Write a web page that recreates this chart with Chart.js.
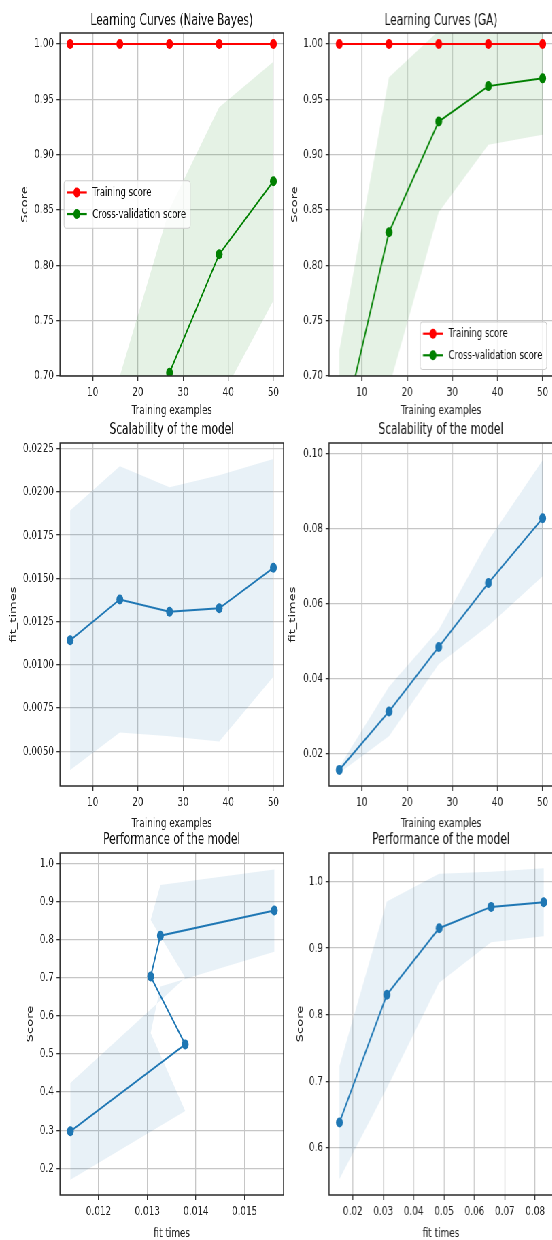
<!DOCTYPE html>
<html>
<head>
<meta charset="utf-8">
<script src="https://cdn.jsdelivr.net/npm/chart.js@4.4.0/dist/chart.umd.min.js"></script>
<style>
html, body { margin: 0; padding: 0; background: #fff; overflow: hidden; width: 552px; height: 1240px; }
#wrap { position: absolute; left: 0; top: 0; width: 812px; height: 1240px; overflow: hidden;
        transform: scaleX(0.68); transform-origin: 0 0; }
#wrap canvas { position: absolute; }
</style>
</head>
<body>
<div id="wrap">
  <canvas id="c1"></canvas>
  <canvas id="c2"></canvas>
  <canvas id="c3"></canvas>
  <canvas id="c4"></canvas>
  <canvas id="c5"></canvas>
  <canvas id="c6"></canvas>
</div>
<script>
// so mau huan luyen
const trainSizes = [5, 16, 27, 38, 50];

// Naive Bayes
const nbTrainScore = [1.0, 1.0, 1.0, 1.0, 1.0];
const nbTrainStd   = [0, 0, 0, 0, 0];
const nbTestScore  = [0.297, 0.525, 0.703, 0.810, 0.876];
const nbTestStd    = [0.127, 0.175, 0.148, 0.133, 0.108];
const nbFitTime    = [0.01142, 0.01378, 0.01307, 0.01327, 0.01561];
const nbFitStd     = [0.0075, 0.0077, 0.0072, 0.0077, 0.0063];

// GA
const gaTrainScore = [1.0, 1.0, 1.0, 1.0, 1.0];
const gaTrainStd   = [0, 0, 0, 0, 0];
const gaTestScore  = [0.638, 0.830, 0.930, 0.962, 0.969];
const gaTestStd    = [0.085, 0.140, 0.082, 0.053, 0.051];
const gaFitTime    = [0.0156, 0.0312, 0.0484, 0.0655, 0.0828];
const gaFitStd     = [0.0008, 0.0066, 0.0046, 0.0114, 0.0155];

// nhan truc
const sizeTicks     = ["10", "20", "30", "40", "50"];
const lcScoreTicks  = ["0.70", "0.75", "0.80", "0.85", "0.90", "0.95", "1.00"];
const nbTimeTicks   = ["0.0050", "0.0075", "0.0100", "0.0125", "0.0150", "0.0175", "0.0200", "0.0225"];
const gaTimeTicks   = ["0.02", "0.04", "0.06", "0.08", "0.10"];
const nbPerfYTicks  = ["0.2", "0.3", "0.4", "0.5", "0.6", "0.7", "0.8", "0.9", "1.0"];
const nbPerfXTicks  = ["0.012", "0.013", "0.014", "0.015"];
const gaPerfYTicks  = ["0.6", "0.7", "0.8", "0.9", "1.0"];
const gaPerfXTicks  = ["0.02", "0.03", "0.04", "0.05", "0.06", "0.07", "0.08"];

const FONT = "'DejaVu Sans', sans-serif";
const TITLE_H = 33;
const X_H = 48;
const PAD_R = 14;

function diem(xs, ys) {
    return xs.map((x, i) => ({ x: x, y: ys[i] }));
}

// vung mean +- std (di tren roi quay lai duoi)
function dai(xs, ys, sd) {
    const tren = xs.map((x, i) => ({ x: x, y: ys[i] + sd[i] }));
    const duoi = xs.map((x, i) => ({ x: x, y: ys[i] - sd[i] })).reverse();
    return tren.concat(duoi);
}

function duong(label, xs, ys, mau) {
    return {
        label: label, data: diem(xs, ys), borderColor: mau, backgroundColor: mau,
        borderWidth: 2, pointRadius: 5, pointBorderWidth: 0, pointBackgroundColor: mau,
        fill: false, order: 1
    };
}

function vung(xs, ys, sd, mau) {
    return {
        data: dai(xs, ys, sd), fill: 'shape', backgroundColor: mau,
        borderColor: 'rgba(0,0,0,0)', borderWidth: 0, pointRadius: 0, pointHitRadius: 0, order: 2
    };
}

// khung 4 canh
const khung = {
    id: 'khung',
    afterDatasetsDraw(chart) {
        const a = chart.chartArea, ctx = chart.ctx;
        ctx.save();
        ctx.strokeStyle = '#2a2a2a';
        ctx.lineWidth = 1.5;
        ctx.strokeRect(a.left, a.top, a.right - a.left, a.bottom - a.top);
        ctx.restore();
    }
};

// chu giai kieu matplotlib
const hopKy = {
    id: 'hopKy',
    afterDraw(chart, args, opts) {
        if (!opts || !opts.vitri) return;
        const ctx = chart.ctx, a = chart.chartArea;
        const items = chart.data.datasets.filter(d => d.label);
        ctx.save();
        ctx.font = '12.5px ' + FONT;
        const tw = Math.max(...items.map(d => ctx.measureText(d.label).width));
        const w = 42 + tw + 6, h = 47.5;
        let x, y;
        if (opts.vitri === 'centerLeft') {
            x = a.left + 6; y = (a.top + a.bottom) / 2 - h / 2;
        } else {
            x = a.right - 9 - w; y = a.bottom - 6.5 - h;
        }
        ctx.fillStyle = 'rgba(255,255,255,0.8)';
        ctx.strokeStyle = '#cccccc';
        ctx.lineWidth = 1;
        ctx.beginPath();
        ctx.roundRect(x, y, w, h, 3);
        ctx.fill();
        ctx.stroke();
        items.forEach((d, i) => {
            const cy = y + 11.7 + i * 21.6;
            ctx.strokeStyle = d.borderColor;
            ctx.fillStyle = d.borderColor;
            ctx.lineWidth = 2.2;
            ctx.beginPath();
            ctx.moveTo(x + 4, cy);
            ctx.lineTo(x + 33.5, cy);
            ctx.stroke();
            ctx.beginPath();
            ctx.arc(x + 18.75, cy, 5, 0, Math.PI * 2);
            ctx.fill();
            ctx.fillStyle = '#111';
            ctx.textBaseline = 'middle';
            ctx.fillText(d.label, x + 41.6, cy + 0.5);
        });
        ctx.restore();
    }
};

function truc(axis, min, max, labels, title, pad, size) {
    return {
        type: 'linear',
        position: axis === 'x' ? 'bottom' : 'left',
        min: min, max: max, bounds: 'data',
        afterBuildTicks: s => { s.ticks = labels.map(t => ({ value: parseFloat(t) })); },
        afterFit: s => { if (axis === 'x') s.height = size; else s.width = size; },
        ticks: {
            autoSkip: false, maxRotation: 0, minRotation: 0, padding: 4, color: '#222',
            font: { family: FONT, size: 13 },
            callback: (v, i) => labels[i]
        },
        grid: { color: '#c6c6c6', lineWidth: 1.3, tickColor: '#333', tickLength: 5, tickWidth: 1.3 },
        border: { display: false },
        title: {
            display: true, text: title, color: '#222',
            font: { family: FONT, size: 13 }, padding: pad
        }
    };
}

function veBang(id, o) {
    const cv = document.getElementById(id);
    const top = o.top - TITLE_H;
    const w = o.right + PAD_R - o.cLeft;
    const h = TITLE_H + (o.bottom - o.top) + X_H;
    cv.style.left = o.cLeft + 'px';
    cv.style.top = top + 'px';
    cv.width = w; cv.height = h;
    cv.style.width = w + 'px'; cv.style.height = h + 'px';
    new Chart(cv, {
        type: 'line',
        data: { datasets: o.datasets },
        options: {
            responsive: false, animation: false, devicePixelRatio: 1,
            layout: { padding: { left: 0, right: PAD_R, top: 0, bottom: 0 } },
            plugins: {
                legend: { display: false },
                tooltip: { enabled: false },
                title: {
                    display: true, text: o.title, color: '#111', fullSize: false,
                    font: { family: FONT, size: 15.5, weight: 'normal' },
                    padding: { top: o.titleTop, bottom: TITLE_H - o.titleTop - 15.5 * 1.2 }
                },
                hopKy: o.legend ? { vitri: o.legend } : {}
            },
            scales: {
                x: truc('x', o.xr[0], o.xr[1], o.xt, o.xTitle, { top: 0, bottom: o.xPad }, X_H),
                y: truc('y', o.yr[0], o.yr[1], o.yt, o.yTitle, { top: o.yPad, bottom: 0 }, o.yW)
            }
        },
        plugins: [khung, hopKy]
    });
}

const GREEN_FILL = 'rgba(0,128,0,0.1)';
const RED_FILL = 'rgba(255,0,0,0.1)';
const BLUE_FILL = 'rgba(31,119,180,0.1)';
const BLUE = '#1f77b4';

// hang 1: learning curves
veBang('c1', {
    cLeft: 0, yW: 88.2, right: 417.2, top: 33, bottom: 376, titleTop: 11.5,
    title: 'Learning Curves (Naive Bayes)',
    xr: [2.75, 52.25], xt: sizeTicks, xTitle: 'Training examples', xPad: 6,
    yr: [0.70, 1.01], yt: lcScoreTicks, yTitle: 'Score', yPad: 29,
    legend: 'centerLeft',
    datasets: [
        vung(trainSizes, nbTrainScore, nbTrainStd, RED_FILL),
        vung(trainSizes, nbTestScore, nbTestStd, GREEN_FILL),
        duong('Training score', trainSizes, nbTrainScore, '#ff0000'),
        duong('Cross-validation score', trainSizes, nbTestScore, '#008000')
    ]
});
veBang('c2', {
    cLeft: 420, yW: 63.8, right: 812.8, top: 33, bottom: 376, titleTop: 11.5,
    title: 'Learning Curves (GA)',
    xr: [2.75, 52.25], xt: sizeTicks, xTitle: 'Training examples', xPad: 6,
    yr: [0.70, 1.01], yt: lcScoreTicks, yTitle: 'Score', yPad: 6,
    legend: 'lowerRight',
    datasets: [
        vung(trainSizes, gaTrainScore, gaTrainStd, RED_FILL),
        vung(trainSizes, gaTestScore, gaTestStd, GREEN_FILL),
        duong('Training score', trainSizes, gaTrainScore, '#ff0000'),
        duong('Cross-validation score', trainSizes, gaTestScore, '#008000')
    ]
});

// hang 2: scalability
veBang('c3', {
    cLeft: 0, yW: 88.2, right: 417.2, top: 443, bottom: 786, titleTop: 10.5,
    title: 'Scalability of the model',
    xr: [2.75, 52.25], xt: sizeTicks, xTitle: 'Training examples', xPad: 3,
    yr: [0.00299, 0.02283], yt: nbTimeTicks, yTitle: 'fit_times', yPad: 12,
    datasets: [
        vung(trainSizes, nbFitTime, nbFitStd, BLUE_FILL),
        duong(null, trainSizes, nbFitTime, BLUE)
    ]
});
veBang('c4', {
    cLeft: 420, yW: 63.8, right: 812.8, top: 443, bottom: 786, titleTop: 10.5,
    title: 'Scalability of the model',
    xr: [2.75, 52.25], xt: sizeTicks, xTitle: 'Training examples', xPad: 3,
    yr: [0.0113, 0.1029], yt: gaTimeTicks, yTitle: 'fit_times', yPad: 3,
    datasets: [
        vung(trainSizes, gaFitTime, gaFitStd, BLUE_FILL),
        duong(null, trainSizes, gaFitTime, BLUE)
    ]
});

// hang 3: performance
veBang('c5', {
    cLeft: 0, yW: 88.2, right: 417.2, top: 853, bottom: 1195, titleTop: 10.5,
    title: 'Performance of the model',
    xr: [0.011207, 0.0158], xt: nbPerfXTicks, xTitle: 'fit times', xPad: 2,
    yr: [0.13, 1.027], yt: nbPerfYTicks, yTitle: 'Score', yPad: 37,
    datasets: [
        vung(nbFitTime, nbTestScore, nbTestStd, BLUE_FILL),
        duong(null, nbFitTime, nbTestScore, BLUE)
    ]
});
veBang('c6', {
    cLeft: 420, yW: 63.8, right: 812.8, top: 853, bottom: 1195, titleTop: 10.5,
    title: 'Performance of the model',
    xr: [0.0122, 0.0858], xt: gaPerfXTicks, xTitle: 'fit times', xPad: 2,
    yr: [0.529, 1.043], yt: gaPerfYTicks, yTitle: 'Score', yPad: 14,
    datasets: [
        vung(gaFitTime, gaTestScore, gaTestStd, BLUE_FILL),
        duong(null, gaFitTime, gaTestScore, BLUE)
    ]
});
</script>
</body>
</html>
